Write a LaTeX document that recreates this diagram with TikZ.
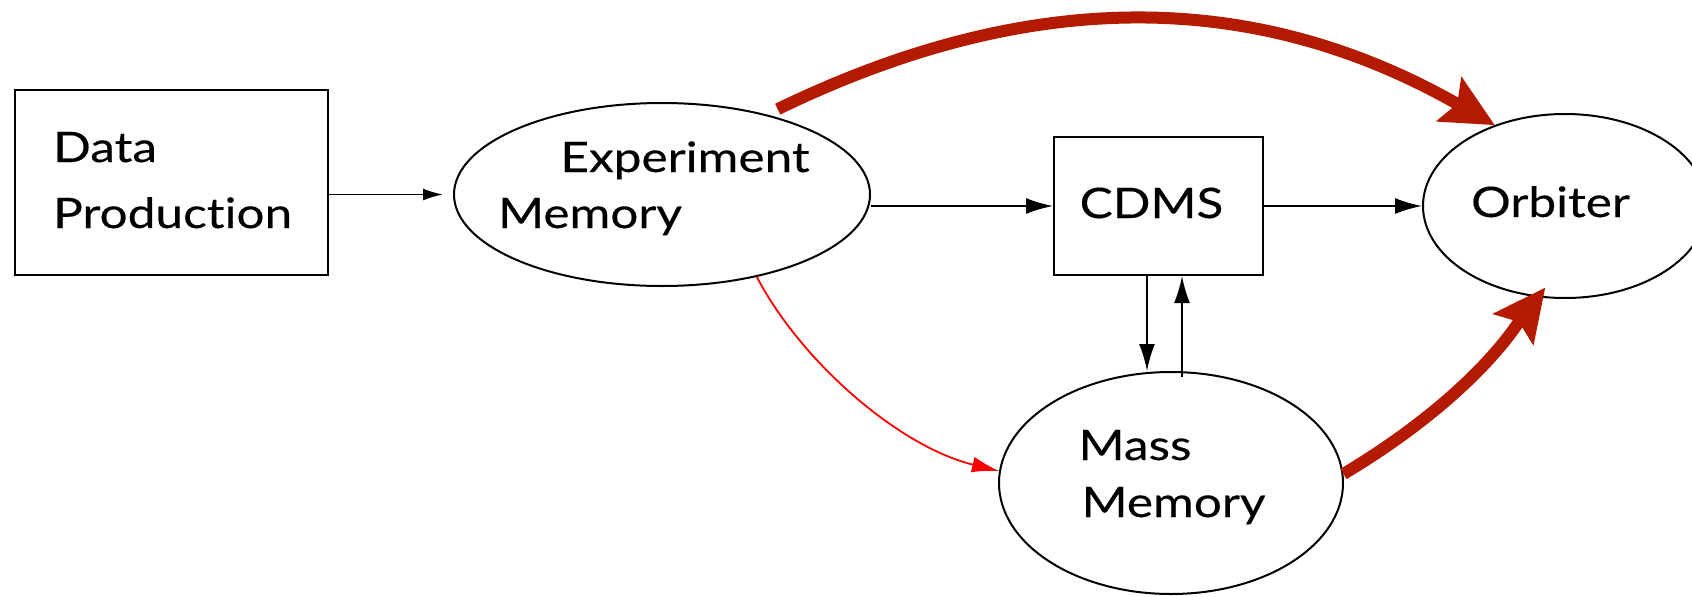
\documentclass[tikz,border=0pt]{standalone}
\usepackage{fontspec}
\setmainfont{Lato}[FakeStretch=1.18,FakeBold=0.3,Ligatures=NoCommon]
\usetikzlibrary{arrows.meta,shapes.geometric,calc}
\definecolor{flowred}{RGB}{180,26,0}
\begin{document}
\begin{tikzpicture}[x=1pt,y=-1pt,
  box/.style={draw,line width=2pt,rectangle,inner sep=0pt},
  oval/.style={draw,line width=2pt,ellipse,inner sep=0pt},
  lbl/.style={anchor=base,inner sep=0pt,font=\fontsize{42}{50}\selectfont},
  lblw/.style={lbl,anchor=base west},
  link/.style={line width=1.9pt,-{Latex[length=27pt,width=16pt]}},
  redlink/.style={line width=1.8pt,red,-{Latex[length=27pt,width=16pt]}},
  fatlink/.style={line width=12pt,flowred,-{Stealth[length=53pt,width=52pt,inset=10pt,line width=0pt]}}
]
\useasboundingbox (0,0) rectangle (1692,597);

% shapes
\node[box,minimum width=313pt,minimum height=185pt] (dp) at (171.5,182.5) {};
\node[oval,minimum width=416pt,minimum height=183pt] (em) at (662,194.5) {};
\node[box,minimum width=209pt,minimum height=138pt] (cdms) at (1158.5,206) {};
\node[oval,minimum width=284pt,minimum height=184pt] (orb) at (1565,206) {};
\node[oval,minimum width=344pt,minimum height=222pt] (mm) at (1171,483) {};

% labels
\node[lblw] (dpa) at (53,162) {Data};
\node[lblw] (dpb) at (53,228) {Production};
\node[lbl] (ema) at (685,172) {Experiment};
\node[lbl] (emb) at (590,228) {Memory};
\node[lbl] (cdmst) at (1151.5,218) {CDMS};
\node[lbl] (orbt) at (1550.5,217) {Orbiter};
\node[lbl] (mma) at (1135,460) {Mass};
\node[lbl] (mmb) at (1173.5,517) {Memory};

% plain connectors
\draw[line width=1.9pt,-{Latex[length=20pt,width=12pt]},shorten >=10pt] (dp.east |- em.west) -- (em.west);
\draw[link] (cdms.west -| em.east) -- (cdms.west);
\draw[link] (cdms.east) -- (orb.west);
\draw[link] ($(cdms.south)+(-11.5,0)$) -- ($(cdms.south |- mm.north)+(-11.5,0)$);
\draw[link] ($(cdms.south |- mm.north)+(23.5,6)$) -- ($(cdms.south)+(23.5,0)$);

% red transfer
\draw[redlink] (em.-41) .. controls (802,363) and (900,447) .. (mm.176);

% heavy flows
\draw[fatlink] ($(em.34)+(1,-8)$) .. controls (1007,-2) and (1235.5,-21.8) .. (orb.131);
\draw[fatlink] (mm.3) .. controls (1472,397) and (1515,327) .. ($(orb.256)+(3,-10)$);
\end{tikzpicture}
\end{document}
